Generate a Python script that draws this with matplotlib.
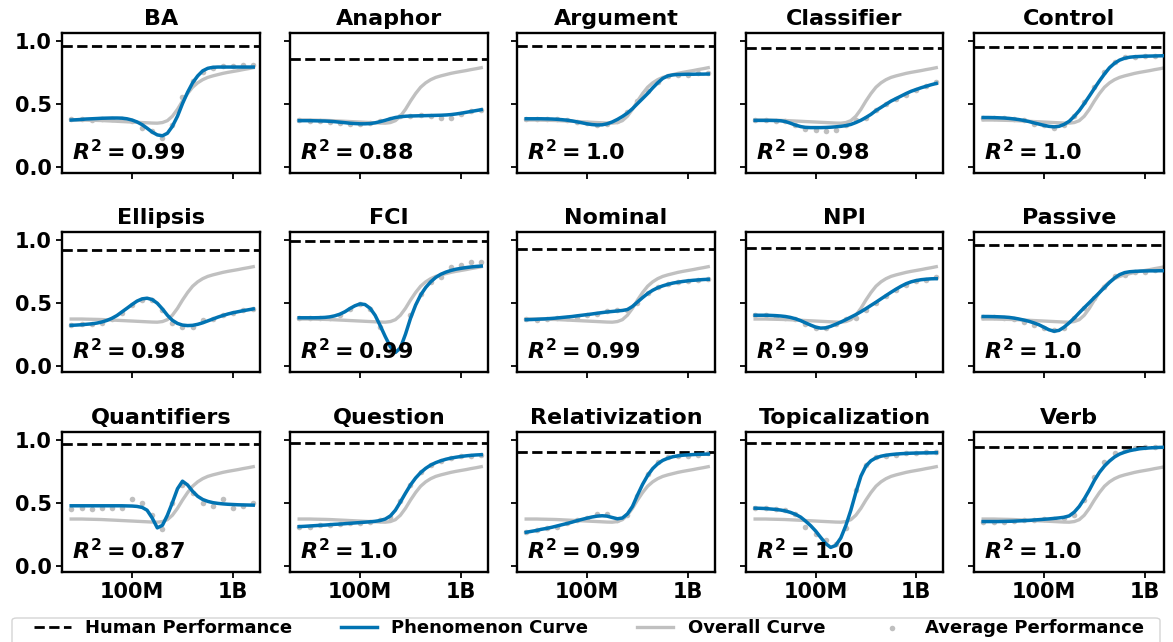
import numpy as np
import matplotlib
matplotlib.use("Agg")
import matplotlib.pyplot as plt
from matplotlib.ticker import FixedLocator, NullLocator
from matplotlib.patches import FancyBboxPatch

plt.rcParams["font.family"] = ["DejaVu Sans"]
plt.rcParams["font.weight"] = "bold"
plt.rcParams["axes.titleweight"] = "bold"
plt.rcParams["axes.linewidth"] = 1.7
plt.rcParams["mathtext.fontset"] = "custom"
plt.rcParams["mathtext.rm"] = "DejaVu Sans:bold"
plt.rcParams["mathtext.it"] = "DejaVu Sans:italic:bold"
plt.rcParams["mathtext.bf"] = "DejaVu Sans:bold"

# training words (millions) for the fitted curves and for the checkpoints
fit_words_m = [25, 28, 32, 35, 40, 45, 50, 56, 63, 71,
               79, 89, 100, 112, 126, 141, 158, 178, 200, 224,
               251, 282, 316, 355, 398, 447, 501, 562, 631, 708,
               794, 891, 1000, 1122, 1259, 1413, 1585]
ckpt_words_m = [25, 32, 40, 50, 63, 79, 100, 126, 158, 200,
                251, 316, 398, 501, 631, 794, 1000, 1259, 1585]

phenomena = ["BA", "Anaphor", "Argument", "Classifier", "Control",
             "Ellipsis", "FCI", "Nominal", "NPI", "Passive",
             "Quantifiers", "Question", "Relativization", "Topicalization", "Verb"]
human_perf = [0.96, 0.857, 0.96, 0.94, 0.95,
              0.92, 0.99, 0.925, 0.93, 0.96,
              0.965, 0.975, 0.905, 0.97, 0.945]
r2_scores = ["0.99", "0.88", "1.0", "0.98", "1.0",
             "0.98", "0.99", "0.99", "0.99", "1.0",
             "0.87", "1.0", "0.99", "1.0", "1.0"]

overall_curve = [.370, .370, .370, .369, .368, .367, .366, .364, .362, .360,
                 .358, .356, .354, .352, .350, .348, .346, .345, .350, .365,
                 .400, .455, .520, .580, .630, .665, .690, .708, .720, .730,
                 .740, .748, .755, .762, .770, .777, .785]

ba_curve = [.370, .372, .375, .378, .380, .382, .384, .385, .386, .386,
            .385, .380, .370, .355, .333, .305, .275, .252, .245, .265,
            .320, .400, .500, .590, .665, .720, .760, .780, .788, .790,
            .790, .790, .790, .790, .790, .790, .790]
ba_avg = [.38, .38, .37, .38, .38, .375, .36, .31, .28, .23, .33, .55, .68, .75, .78, .80, .80, .81, .81]

anaphor_curve = [.365, .365, .365, .364, .363, .362, .360, .357, .353, .349,
                 .345, .342, .340, .340, .342, .348, .357, .368, .380, .390,
                 .396, .400, .402, .403, .404, .405, .406, .407, .408, .410,
                 .413, .418, .424, .431, .438, .445, .452]
anaphor_avg = [.37, .365, .36, .355, .35, .34, .34, .345, .36, .38, .40, .40, .41, .40, .39, .39, .42, .44, .45]

argument_curve = [.380, .380, .380, .380, .379, .378, .376, .373, .369, .363,
                  .356, .348, .340, .334, .331, .332, .340, .355, .375, .398,
                  .425, .460, .500, .540, .580, .625, .665, .700, .720, .728,
                  .731, .732, .733, .733, .734, .734, .735]
argument_avg = [.38, .38, .38, .375, .37, .355, .345, .33, .335, .36, .43, .52, .60, .67, .72, .73, .73, .74, .74]

classifier_curve = [.367, .367, .367, .367, .366, .364, .358, .345, .330, .318,
                    .312, .310, .310, .310, .311, .313, .316, .320, .326, .335,
                    .350, .368, .390, .415, .445, .470, .495, .520, .540, .560,
                    .580, .598, .612, .626, .638, .650, .660]
classifier_avg = [.37, .37, .365, .36, .33, .30, .29, .285, .29, .33, .37, .39, .45, .50, .54, .57, .61, .64, .67]

control_curve = [.390, .390, .389, .388, .386, .383, .379, .374, .367, .358,
                 .348, .338, .328, .320, .316, .320, .335, .360, .400, .445,
                 .500, .560, .620, .680, .735, .785, .820, .845, .860, .868,
                 .872, .874, .876, .877, .878, .879, .880]
control_avg = [.39, .39, .385, .38, .37, .34, .33, .31, .33, .40, .51, .63, .75, .83, .87, .87, .88, .88, .89]

ellipsis_curve = [.320, .322, .325, .328, .332, .338, .346, .358, .375, .398,
                  .425, .455, .485, .512, .530, .535, .525, .495, .450, .400,
                  .360, .335, .322, .318, .320, .328, .340, .355, .370, .385,
                  .398, .410, .420, .428, .436, .443, .450]
ellipsis_avg = [.32, .33, .33, .34, .37, .42, .48, .52, .52, .44, .34, .31, .31, .36, .37, .40, .42, .44, .45]

fci_curve = [.380, .380, .380, .380, .381, .383, .387, .395, .408, .428,
             .452, .475, .490, .485, .455, .400, .320, .230, .150, .105,
             .140, .250, .375, .480, .560, .620, .665, .700, .725, .742,
             .755, .765, .772, .778, .783, .787, .790]
fci_avg = [.38, .38, .38, .38, .40, .45, .49, .45, .31, .12, .14, .40, .57, .66, .70, .78, .80, .82, .82]

nominal_curve = [.365, .366, .368, .370, .372, .375, .378, .382, .386, .390,
                 .395, .400, .405, .410, .416, .421, .426, .430, .434, .438,
                 .445, .470, .505, .540, .572, .598, .618, .633, .645, .655,
                 .662, .668, .673, .677, .680, .683, .685]
nominal_avg = [.37, .365, .37, .375, .38, .39, .40, .41, .43, .44, .44, .50, .58, .62, .65, .66, .67, .68, .69]

npi_curve = [.400, .400, .400, .399, .397, .394, .390, .383, .372, .357,
             .340, .322, .306, .298, .300, .312, .328, .346, .365, .385,
             .405, .428, .452, .478, .503, .530, .556, .582, .607, .630,
             .650, .665, .675, .682, .686, .689, .690]
npi_avg = [.40, .40, .39, .38, .37, .33, .30, .30, .33, .37, .38, .44, .50, .55, .60, .64, .67, .68, .70]

passive_curve = [.390, .390, .389, .388, .386, .383, .378, .371, .362, .352,
                 .340, .325, .305, .285, .273, .280, .305, .340, .378, .420,
                 .460, .500, .540, .580, .620, .660, .695, .722, .738, .745,
                 .748, .750, .751, .752, .752, .753, .753]
passive_avg = [.39, .39, .38, .37, .35, .32, .30, .28, .30, .38, .46, .54, .62, .71, .72, .74, .74, .76, .77]

quantifiers_curve = [.475, .475, .475, .475, .475, .475, .475, .475, .475, .475,
                     .475, .474, .473, .470, .462, .440, .380, .300, .320, .400,
                     .500, .610, .670, .640, .590, .550, .525, .510, .500, .494,
                     .490, .487, .485, .483, .482, .481, .480]
quantifiers_avg = [.45, .455, .45, .455, .455, .46, .53, .50, .40, .29, .50, .64, .58, .50, .47, .53, .46, .47, .50]

question_curve = [.310, .312, .315, .317, .320, .322, .325, .328, .330, .333,
                  .336, .339, .342, .345, .348, .352, .358, .370, .395, .440,
                  .505, .575, .640, .695, .738, .772, .798, .817, .832, .844,
                  .853, .860, .866, .871, .875, .878, .880]
question_avg = [.31, .31, .32, .32, .33, .335, .34, .345, .36, .39, .51, .64, .74, .80, .83, .85, .87, .87, .88]

relativization_curve = [.265, .272, .280, .288, .296, .305, .314, .324, .334, .345,
                        .356, .367, .377, .386, .393, .396, .393, .382, .372, .378,
                        .410, .470, .560, .645, .715, .770, .808, .835, .852, .864,
                        .871, .876, .879, .881, .883, .884, .885]
relativization_avg = [.27, .28, .30, .31, .34, .36, .38, .41, .41, .36, .40, .55, .73, .82, .86, .87, .87, .88, .89]

topicalization_curve = [.456, .455, .453, .450, .446, .441, .434, .423, .407, .385,
                        .355, .318, .275, .225, .175, .145, .160, .220, .320, .440,
                        .580, .710, .790, .832, .855, .868, .876, .881, .885, .888,
                        .890, .892, .893, .894, .895, .895, .896]
topicalization_avg = [.46, .46, .45, .44, .41, .31, .25, .20, .17, .30, .60, .80, .86, .87, .88, .89, .89, .90, .90]

verb_curve = [.350, .350, .350, .350, .351, .352, .353, .355, .357, .359,
              .362, .365, .368, .371, .375, .379, .384, .395, .425, .470,
              .530, .600, .675, .740, .790, .830, .862, .885, .900, .912,
              .920, .927, .931, .934, .936, .938, .939]
verb_avg = [.35, .35, .35, .355, .36, .365, .37, .37, .38, .40, .52, .70, .82, .89, .92, .93, .94, .94, .945]

phenomenon_curves = [ba_curve, anaphor_curve, argument_curve, classifier_curve, control_curve,
                     ellipsis_curve, fci_curve, nominal_curve, npi_curve, passive_curve,
                     quantifiers_curve, question_curve, relativization_curve, topicalization_curve, verb_curve]
average_points = [ba_avg, anaphor_avg, argument_avg, classifier_avg, control_avg,
                  ellipsis_avg, fci_avg, nominal_avg, npi_avg, passive_avg,
                  quantifiers_avg, question_avg, relativization_avg, topicalization_avg, verb_avg]

fit_x = np.array(fit_words_m) * 1e6
ckpt_x = np.array(ckpt_words_m) * 1e6

blue = "#0173b2"
grey_line = "#c0c0c0"

'''Layout of the 3 x 5 grid (pixels of a 1173 x 642 figure)'''
W, H = 1173, 642
col_left = [62, 290, 517, 746, 974]
col_width = [198, 198, 198, 197, 190]
row_top = [33, 232, 432]
panel_h = 140

fig = plt.figure(figsize=(W / 100, H / 100), dpi=100)

for i, name in enumerate(phenomena):
    r, c = divmod(i, 5)
    ax = fig.add_axes([col_left[c] / W, (H - row_top[r] - panel_h) / H,
                       col_width[c] / W, panel_h / H])

    ax.scatter(ckpt_x, average_points[i], s=16, color="grey", alpha=0.5,
               linewidths=0, zorder=1, label="Average Performance")
    ax.plot(fit_x, overall_curve, color=grey_line, lw=2.4, zorder=2, label="Overall Curve")
    ax.plot(fit_x, phenomenon_curves[i], color=blue, lw=2.5, zorder=3, label="Phenomenon Curve")
    ax.axhline(human_perf[i], color="black", ls="--", lw=2, zorder=2, label="Human Performance")

    ax.text(0.05, 0.06, r"$R^2 = %s$" % r2_scores[i], transform=ax.transAxes,
            fontsize=16, fontweight="bold", ha="left", va="bottom", zorder=4)

    ax.set_xscale("log")
    right = 10 ** 9.267 if c < 4 else 10 ** 9.19
    ax.set_xlim(10 ** 7.307, right)
    ax.set_ylim(-0.05, 1.06)
    ax.xaxis.set_major_locator(FixedLocator([1e8, 1e9]))
    ax.xaxis.set_minor_locator(NullLocator())
    ax.set_yticks([0.0, 0.5, 1.0])
    ax.tick_params(width=1.3, length=4, labelsize=15)

    if r == 2:
        ax.set_xticklabels(["100M", "1B"], fontweight="bold")
    else:
        ax.set_xticklabels([])
    if c == 0:
        ax.set_yticklabels(["0.0", "0.5", "1.0"], fontweight="bold")
    else:
        ax.set_yticklabels([])

    ax.set_title(name, fontsize=16, fontweight="bold", pad=6)

    if i == 0:
        handles, labels = ax.get_legend_handles_labels()

# legend box at the bottom, running off the lower edge
fig.patches.append(FancyBboxPatch((12 / W, -20 / H), (1148 / W), 44 / H,
                                  boxstyle="round,pad=0,rounding_size=0.004",
                                  transform=fig.transFigure, facecolor="white",
                                  edgecolor="#d0d0d0", lw=1.0, alpha=0.9))

order = ["Human Performance", "Phenomenon Curve", "Overall Curve", "Average Performance"]
hmap = dict(zip(labels, handles))
fig.legend([hmap[k] for k in order], order, loc="upper center",
           bbox_to_anchor=(589 / W, 1 - 612 / H), ncol=4, columnspacing=2.7,
           prop={"weight": "bold", "size": 13}, borderaxespad=0, frameon=False)

fig.savefig("out.png", dpi=100)
